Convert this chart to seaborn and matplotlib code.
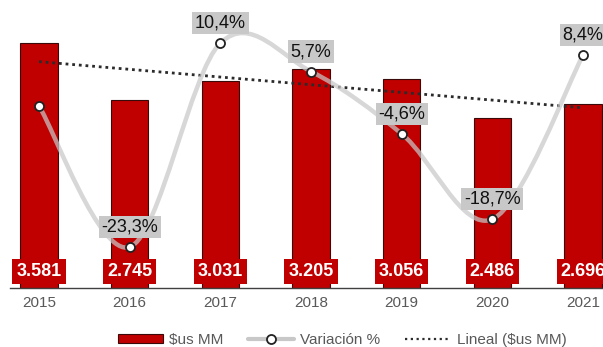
import numpy as np
import pandas as pd
import matplotlib
matplotlib.use("Agg")
import matplotlib.pyplot as plt
from matplotlib.path import Path
from matplotlib.patches import PathPatch, Patch
from matplotlib.lines import Line2D
import seaborn as sns

years = ["2015", "2016", "2017", "2018", "2019", "2020", "2021"]
monto = [3581, 2745, 3031, 3205, 3056, 2486, 2696]
bar_labels = ["3.581", "2.745", "3.031", "3.205", "3.056", "2.486", "2.696"]
variacion = [0.0, -23.3, 10.4, 5.7, -4.6, -18.7, 8.4]
var_labels = [None, "-23,3%", "10,4%", "5,7%", "-4,6%", "-18,7%", "8,4%"]

sns.set_theme(style="white")
plt.rcParams["font.family"] = ["Liberation Sans", "DejaVu Sans"]

fig = plt.figure(figsize=(6.03, 3.47), dpi=100)
ax = fig.add_axes([10 / 603, 59 / 347, 593 / 603, 288 / 347])

df = pd.DataFrame({"year": years, "monto": monto})
sns.barplot(data=df, x="year", y="monto", color="#c00000", width=0.41,
            edgecolor="#3a0a0a", linewidth=0.8, saturation=1, ax=ax, zorder=2)

xs = np.arange(len(years))
# linear trend of bar values
coef = np.polyfit(xs, monto, 1)
ax.plot(xs, np.polyval(coef, xs), ls=(0, (1, 1.4)), color="#2b2b2b", lw=2.0, zorder=4)

ax.set_xlim(-0.32, 6.22)
ax.set_ylim(0, 4210)
ax.set_xlabel("")
ax.set_ylabel("")
ax.set_yticks([])
for s in ["top", "left", "right"]:
    ax.spines[s].set_visible(False)
ax.spines["bottom"].set_color("#404040")
ax.spines["bottom"].set_linewidth(1.0)
ax.tick_params(axis="x", length=0, pad=6, labelsize=11, labelcolor="#595959")

for x, lab in zip(xs, bar_labels):
    ax.text(x, 248, lab, ha="center", va="center", color="white", fontsize=13,
            fontweight="bold", zorder=6,
            bbox=dict(boxstyle="square,pad=0.22", fc="#c00000", ec="none"))

ax2 = ax.twinx()
ax2.set_ylim(-30.08, 17.52)
ax2.set_yticks([])
for s in ax2.spines.values():
    s.set_visible(False)

# smoothed line (Bezier through the data points, Excel-style smoothing)
P = np.column_stack([xs, variacion]).astype(float)
n = len(P)
verts = [P[0]]
codes = [Path.MOVETO]
for i in range(n - 1):
    p0 = P[i - 1] if i > 0 else P[i]
    p1, p2 = P[i], P[i + 1]
    p3 = P[i + 2] if i + 2 < n else P[i + 1]
    c1 = p1 + (p2 - p0) / 6
    c2 = p2 - (p3 - p1) / 6
    verts += [c1, c2, p2]
    codes += [Path.CURVE4] * 3
ax2.add_patch(PathPatch(Path(verts, codes), fc="none", ec="#c8c8c8", lw=3.2,
                        alpha=0.72, zorder=3))
ax2.plot(xs, variacion, ls="none", marker="o", ms=6.5, mfc="white",
         mec="#222222", mew=1.3, zorder=5)

for x, v, lab in zip(xs, variacion, var_labels):
    if lab is None:
        continue
    ax2.text(x, v + 3.3, lab, ha="center", va="center", color="#111111",
             fontsize=13, zorder=7,
             bbox=dict(boxstyle="square,pad=0.15", fc="#c8c8c8", ec="none"))

handles = [
    Patch(fc="#c00000", ec="#3a0a0a", lw=0.8),
    Line2D([], [], color="#c8c8c8", lw=3, marker="o", ms=6.5, mfc="white",
           mec="#222222", mew=1.3),
    Line2D([], [], color="#2b2b2b", lw=1.6, ls=(0, (1, 1.6))),
]
leg = fig.legend(handles, ["$us MM", "Variación %", "Lineal ($us MM)"],
                 loc="center", bbox_to_anchor=(342 / 603, 7 / 347), ncol=3,
                 frameon=False, fontsize=11, handlelength=3.0,
                 handleheight=0.55, handletextpad=0.4, columnspacing=1.6)
for t in leg.get_texts():
    t.set_color("#595959")

fig.savefig("out.png", dpi=100)
